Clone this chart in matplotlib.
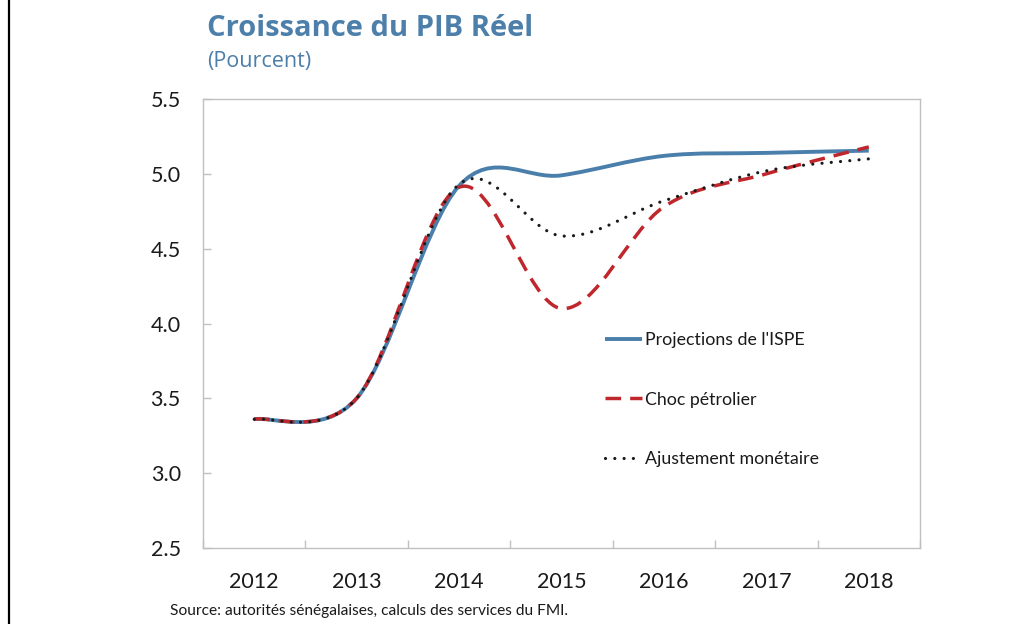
import matplotlib
matplotlib.use("Agg")
import matplotlib.pyplot as plt
from matplotlib.path import Path
from matplotlib.patches import PathPatch
from matplotlib.lines import Line2D
import numpy as np

years = ["2012", "2013", "2014", "2015", "2016", "2017", "2018"]
ispe = [3.36, 3.50, 4.92, 4.99, 5.12, 5.14, 5.155]
choc = [3.36, 3.50, 4.91, 4.10, 4.78, 5.00, 5.18]
ajust = [3.36, 3.50, 4.93, 4.585, 4.82, 5.02, 5.10]
labels = ["Projections de l'ISPE", "Choc pétrolier", "Ajustement monétaire"]

BLUE = "#4A7EAB"
RED = "#C0272D"
TITLE = "#4C7FAA"
FONT = "Lato"


def smooth_path(ys):
    # excel-style smoothed line: cubic bezier through each point
    pts = np.column_stack([np.arange(len(ys), dtype=float), ys])
    verts = [pts[0]]
    codes = [Path.MOVETO]
    n = len(pts)
    for i in range(n - 1):
        p0 = pts[max(i - 1, 0)]
        p1 = pts[i]
        p2 = pts[i + 1]
        p3 = pts[min(i + 2, n - 1)]
        verts += [p1 + (p2 - p0) / 6, p2 - (p3 - p1) / 6, p2]
        codes += [Path.CURVE4] * 3
    return Path(verts, codes)


fig = plt.figure(figsize=(10.26, 6.24), dpi=100)
ax = fig.add_axes([203 / 1026, 76 / 624, 717 / 1026, 449 / 624])

styles = [
    dict(color=BLUE, lw=2.8, ls="-", capstyle="butt"),
    dict(color=RED, lw=2.5, ls=(0, (4.5, 2.6)), capstyle="butt"),
    dict(color="#1a1a1a", lw=2.3, ls=(0, (0.01, 2.9)), capstyle="round"),
]
series = [ispe, choc, ajust]
for ys, st in zip(series, styles):
    patch = PathPatch(smooth_path(ys), fill=False, edgecolor=st["color"],
                      lw=st["lw"], ls=st["ls"])
    patch.set_capstyle(st["capstyle"])
    ax.add_patch(patch)

ax.set_xlim(-0.5, len(years) - 0.5)
ax.set_ylim(2.5, 5.5)
ax.set_yticks(np.arange(2.5, 5.51, 0.5))
ax.set_yticklabels([f"{v:.1f}" for v in np.arange(2.5, 5.51, 0.5)])
ax.set_xticks(range(len(years)))
ax.set_xticklabels(years)
ax.set_xticks(np.arange(-0.5, len(years), 1.0), minor=True)

for s in ax.spines.values():
    s.set_color("#C0C0C0")
    s.set_linewidth(1.0)

ax.tick_params(axis="y", direction="in", length=6, width=1, color="#C0C0C0",
               pad=16, labelsize=15.5)
ax.tick_params(axis="x", which="major", length=0, pad=17, labelsize=15.5)
ax.tick_params(axis="x", which="minor", direction="in", length=6, width=1,
               color="#C0C0C0")
for t in ax.get_xticklabels() + ax.get_yticklabels():
    t.set_fontfamily(FONT)
    t.set_color("#1a1a1a")

handles = []
for st, lab in zip(styles, labels):
    h = Line2D([], [], color=st["color"], lw=st["lw"], ls=st["ls"],
               dash_capstyle=st["capstyle"], solid_capstyle="butt")
    handles.append(h)
leg = ax.legend(handles, labels, loc="upper left",
                bbox_to_anchor=(605 / 1026, 1 - 332 / 624),
                bbox_transform=fig.transFigure, frameon=False,
                prop={"family": FONT, "size": 12.8}, handlelength=2.1,
                handletextpad=0.15, labelspacing=2.45, borderaxespad=0,
                borderpad=0)
for t in leg.get_texts():
    t.set_color("#1a1a1a")

fig.text(207 / 1026, 1 - 28 / 624, "Croissance du PIB Réel", fontsize=21,
         fontweight="bold", color=TITLE, family="Open Sans", va="center")
fig.text(207 / 1026, 1 - 62 / 624, "(Pourcent)", fontsize=15.5,
         color=TITLE, family="Open Sans", va="center")
fig.text(170 / 1026, 1 - 611 / 624,
         "Source: autorités sénégalaises, calculs des services du FMI.",
         fontsize=11.2, color="#1a1a1a", family=FONT, va="center")

fig.add_artist(Line2D([9 / 1026, 9 / 1026], [0, 1], color="black", lw=1.6,
                      transform=fig.transFigure))

fig.savefig("out.png", dpi=100)
